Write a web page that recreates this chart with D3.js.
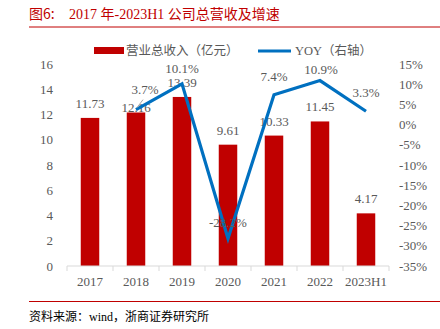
<!DOCTYPE html>
<html><head><meta charset="utf-8">
<script src="https://cdn.jsdelivr.net/npm/d3@7"></script>
<style>body{margin:0;background:#fff}svg{display:block}</style>
</head><body>
<script>
const categories = ["2017","2018","2019","2020","2021","2022","2023H1"];
const revenue = [11.73, 12.16, 13.39, 9.61, 10.33, 11.45, 4.17];
const yoy = [null, 3.7, 10.1, -28.2, 7.4, 10.9, 3.3];
const leftTicks = [0,2,4,6,8,10,12,14,16];
const rightTicks = [-35,-30,-25,-20,-15,-10,-5,0,5,10,15];
const revLabelDy = [0, 10, 0, 0, 0, 0, 0];
const yoyLabelDx = [0, 9, 0, 0, 0, 1, 0];
const yoyLabelDy = [0, -2, 3, 2, 0, 7, 0];

const W = 440, H = 329;
const svg = d3.select("body").append("svg").attr("width", W).attr("height", H);
const serif = "'Liberation Serif','Times New Roman',serif";
const cjk = "'Noto Sans CJK SC',sans-serif";
const red = "#C00000", blue = "#0070C0", gray = "#595959";

// title
svg.append("text").attr("x", 29).attr("y", 19).attr("fill", red)
  .attr("font-size", 14).attr("font-family", cjk).text("图6:");
svg.append("text").attr("x", 69).attr("y", 19).attr("fill", red)
  .attr("font-size", 14).attr("font-family", serif + "," + cjk).text("2017 年-2023H1 公司总营收及增速");
svg.append("line").attr("x1", 29).attr("x2", 440).attr("y1", 27).attr("y2", 27)
  .attr("stroke", red).attr("stroke-width", 1);

// scales
const xs = d3.scaleBand().domain(categories).range([67, 389]);
const yL = d3.scaleLinear().domain([0, 16]).range([266, 64]);
const yR = d3.scaleLinear().domain([-35, 15]).range([266, 64]);
const cx = c => xs(c) + xs.bandwidth() / 2;

// bars
svg.append("g").selectAll("rect").data(revenue).join("rect")
  .attr("x", (d, i) => cx(categories[i]) - 9.25)
  .attr("width", 18.5)
  .attr("y", d => yL(d)).attr("height", d => yL(0) - yL(d))
  .attr("fill", red);

// x axis
const xAxis = svg.append("g").attr("transform", "translate(0,266)");
xAxis.append("line").attr("x1", 67).attr("x2", 389).attr("stroke", "#D9D9D9");
xAxis.selectAll("line.t").data(d3.range(categories.length + 1)).join("line")
  .attr("class", "t").attr("x1", i => 67 + i * xs.step()).attr("x2", i => 67 + i * xs.step())
  .attr("y1", 0).attr("y2", 5).attr("stroke", "#D9D9D9");
xAxis.selectAll("text").data(categories).join("text")
  .attr("x", d => cx(d)).attr("y", 20)
  .attr("text-anchor", "middle").attr("fill", gray).attr("font-size", 13)
  .attr("font-family", serif).text(d => d);

// left axis labels
svg.append("g").selectAll("text").data(leftTicks).join("text")
  .attr("x", 53).attr("y", d => yL(d) + 4.5).attr("text-anchor", "end")
  .attr("fill", gray).attr("font-size", 13).attr("font-family", serif).text(d => d);

// right axis labels
svg.append("g").selectAll("text").data(rightTicks).join("text")
  .attr("x", 399).attr("y", d => yR(d) + 4.5).attr("text-anchor", "start")
  .attr("fill", gray).attr("font-size", 13).attr("font-family", serif).text(d => d + "%");

// bar labels
svg.append("g").selectAll("text").data(revenue).join("text")
  .attr("x", (d, i) => cx(categories[i]))
  .attr("y", (d, i) => yL(d) - 10 + revLabelDy[i])
  .attr("text-anchor", "middle").attr("fill", gray).attr("font-size", 13)
  .attr("font-family", serif).text(d => d.toFixed(2));

// line
const pts = yoy.map((v, i) => ({v, c: categories[i]})).filter(p => p.v !== null);
const line = d3.line().x(p => cx(p.c)).y(p => yR(p.v));
svg.append("path").datum(pts).attr("d", line).attr("fill", "none")
  .attr("stroke", blue).attr("stroke-width", 3.2).attr("stroke-linejoin", "miter");

// leader line for 3.7%
svg.append("line").attr("x1", cx("2018") + 1).attr("y1", yR(3.7) - 2)
  .attr("x2", cx("2018") + 7).attr("y2", yR(3.7) - 10)
  .attr("stroke", "#A6A6A6").attr("stroke-width", 1);

// yoy labels
svg.append("g").selectAll("text").data(yoy.map((v, i) => ({v, i})).filter(d => d.v !== null)).join("text")
  .attr("x", d => cx(categories[d.i]) + yoyLabelDx[d.i])
  .attr("y", d => yR(d.v) - 14 + yoyLabelDy[d.i])
  .attr("text-anchor", "middle").attr("fill", gray).attr("font-size", 13)
  .attr("font-family", serif).text(d => d.v.toFixed(1) + "%");

// legend
svg.append("rect").attr("x", 94).attr("y", 47).attr("width", 30).attr("height", 7).attr("fill", red);
svg.append("text").attr("x", 126).attr("y", 55).attr("fill", gray).attr("font-size", 12.5)
  .attr("font-family", cjk).text("营业总收入（亿元）");
svg.append("line").attr("x1", 258).attr("x2", 291).attr("y1", 51).attr("y2", 51)
  .attr("stroke", blue).attr("stroke-width", 3.2);
svg.append("text").attr("x", 295).attr("y", 55).attr("fill", gray).attr("font-size", 12.5)
  .attr("font-family", serif + "," + cjk).text("YOY（右轴）");

// footer
svg.append("line").attr("x1", 29).attr("x2", 440).attr("y1", 301.5).attr("y2", 301.5)
  .attr("stroke", red).attr("stroke-width", 1);
svg.append("text").attr("x", 29).attr("y", 321).attr("fill", "#000").attr("font-size", 12)
  .attr("font-family", serif + "," + cjk).text("资料来源：wind，浙商证券研究所");
</script>
</body></html>
